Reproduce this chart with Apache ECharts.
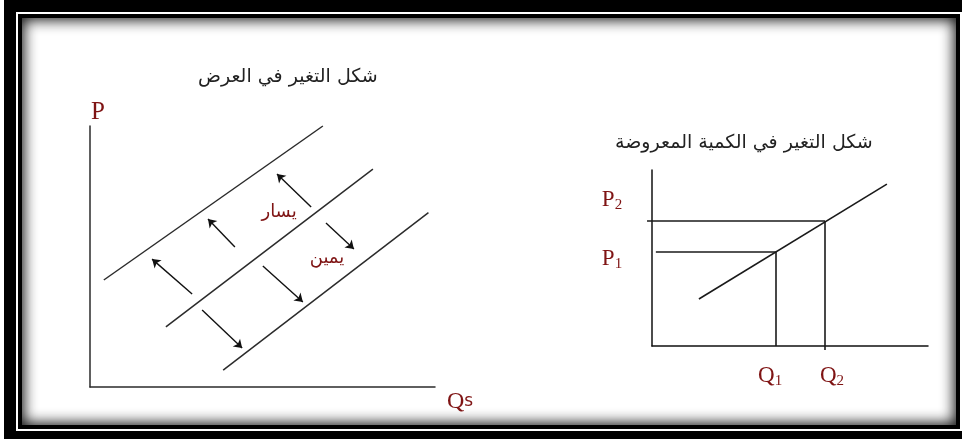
<!DOCTYPE html>
<html>
<head>
<meta charset="utf-8">
<title>شكل التغير في العرض</title>
<script src="https://cdn.jsdelivr.net/npm/echarts@6/dist/echarts.min.js"></script>
<style>
  html, body { margin: 0; padding: 0; background: #fff; }
  .box { position: absolute; }
  #f1 { left: 4px; top: 0; width: 958px; height: 439px; background: #000; }
  #f2 { left: 16px; top: 12px; width: 946px; height: 419px; background: #fff; }
  #f3 { left: 18px; top: 14px; width: 942px; height: 415px; background: #000; }
  #f4 { left: 22px; top: 18px; width: 934px; height: 407px; background: #fff;
        box-shadow: inset 0 0 14px 2px #111; }
  #main { position: absolute; left: 0; top: 0; width: 962px; height: 439px; }
</style>
</head>
<body>
<div class="box" id="f1"></div>
<div class="box" id="f2"></div>
<div class="box" id="f3"></div>
<div class="box" id="f4"></div>
<div id="main"></div>
<script>
// left panel: three supply curves (quantity, price)
var curveLeft = [[4, 41], [67.5, 100]];
var curveMid = [[22, 23], [82, 83.5]];
var curveRight = [[38.6, 6.5], [98.1, 66.8]];
// shift arrows [from, to]
var arrowsLeft = [
  [[29.6, 35.6], [18, 49]],
  [[42, 53.6], [34.2, 64.4]],
  [[64.1, 69], [54.2, 81.6]]
];
var arrowsRight = [
  [[68.4, 62.8], [76.5, 52.9]],
  [[50.1, 46.4], [61.7, 32.6]],
  [[32.5, 29.5], [44.1, 14.9]]
];
var shiftNames = ['يسار', 'يمين'];
var shiftPos = [[54.8, 67], [68.7, 49.4]];

// right panel: one supply curve, two price/quantity points
var supplyCurve = [[17, 26.7], [85.1, 92]];
var priceLevels = [53.4, 71];
var quantityLevels = [44.9, 62.7];
var priceNames = ['1', '2'];
var quantityNames = ['1', '2'];
var priceLabelY = [49.4, 83];
var quantityLabelX = [42.8, 65.2];

var red = '#7f1414';
var ink = '#2b2b2b';
var serif = '"Liberation Serif", "DejaVu Serif", serif';
var sans = '"DejaVu Sans", "Liberation Sans", sans-serif';

function seg(list) {
  return list.map(function (s) { return { coords: s }; });
}

var guideLines = [
  [[1.4, priceLevels[0]], [quantityLevels[0], priceLevels[0]]],
  [[-1.8, priceLevels[1]], [quantityLevels[1], priceLevels[1]]],
  [[quantityLevels[0], priceLevels[0]], [quantityLevels[0], 0]],
  [[quantityLevels[1], priceLevels[1]], [quantityLevels[1], -2.3]]
];

var chart = echarts.init(document.getElementById('main'));

function axis(extra) {
  return Object.assign({
    type: 'value', min: 0, max: 100,
    axisLine: { show: true, onZero: false, lineStyle: { color: ink, width: 1.5 } },
    axisTick: { show: false },
    axisLabel: { show: false },
    splitLine: { show: false }
  }, extra);
}

var subRich = {
  b: { fontFamily: serif, fontSize: 23, color: red },
  s: { fontFamily: serif, fontSize: 15, color: red, padding: [10, 0, 0, 0] }
};

var titleStyle = { fontFamily: sans, fontSize: 19, fontWeight: 'normal', color: '#222' };

chart.setOption({
  animation: false,
  backgroundColor: 'transparent',
  title: [
    { text: 'شكل التغير في العرض', left: 193, top: 63, textStyle: titleStyle },
    { text: 'شكل التغير في الكمية المعروضة', left: 610, top: 129, textStyle: titleStyle }
  ],
  grid: [
    { left: 90, top: 126, width: 345, height: 261, outerBoundsMode: 'none' },
    { left: 652, top: 170, width: 276, height: 176, outerBoundsMode: 'none' }
  ],
  xAxis: [
    axis({
      gridIndex: 0, name: '{b|Q}{q|s}', nameLocation: 'end', nameGap: 12,
      nameTextStyle: {
        verticalAlign: 'top', padding: [3, 0, 0, 0],
        rich: {
          b: { fontFamily: serif, fontSize: 24, color: red },
          q: { fontFamily: sans, fontSize: 17, color: red }
        }
      }
    }),
    axis({ gridIndex: 1, axisLine: { show: true, onZero: false, lineStyle: { color: '#111', width: 1.5 } } })
  ],
  yAxis: [
    axis({
      gridIndex: 0, name: 'P', nameLocation: 'end', nameGap: 1,
      nameTextStyle: { fontFamily: serif, fontSize: 25, color: red, align: 'left', padding: [0, 0, 0, 1] }
    }),
    axis({ gridIndex: 1, axisLine: { show: true, onZero: false, lineStyle: { color: '#111', width: 1.5 } } })
  ],
  series: [
    {
      type: 'lines', coordinateSystem: 'cartesian2d', xAxisIndex: 0, yAxisIndex: 0,
      clip: false, symbol: 'none',
      lineStyle: { color: ink, width: 1.5, opacity: 1 },
      data: seg([curveLeft, curveMid, curveRight])
    },
    {
      type: 'lines', coordinateSystem: 'cartesian2d', xAxisIndex: 0, yAxisIndex: 0,
      clip: false, symbol: ['none', 'arrow'], symbolSize: 8,
      lineStyle: { color: '#111', width: 1.4, opacity: 1 },
      data: seg(arrowsLeft.concat(arrowsRight))
    },
    {
      type: 'scatter', xAxisIndex: 0, yAxisIndex: 0, clip: false, symbolSize: 0,
      itemStyle: { color: red, opacity: 1 },
      label: {
        show: true, position: 'inside', formatter: '{b}',
        fontFamily: sans, fontSize: 18, color: red, opacity: 1,
        textBorderWidth: 0, textBorderColor: 'transparent'
      },
      data: shiftNames.map(function (n, i) { return { name: n, value: shiftPos[i] }; })
    },
    {
      type: 'lines', coordinateSystem: 'cartesian2d', xAxisIndex: 1, yAxisIndex: 1,
      clip: false, symbol: 'none',
      lineStyle: { color: '#1a1a1a', width: 1.6, opacity: 1 },
      data: seg([supplyCurve].concat(guideLines))
    },
    {
      type: 'scatter', xAxisIndex: 1, yAxisIndex: 1, clip: false, symbolSize: 0,
      itemStyle: { color: red, opacity: 1 },
      label: {
        show: true, position: 'inside', color: red, opacity: 1,
        textBorderWidth: 0, textBorderColor: 'transparent',
        formatter: function (p) { return '{b|' + p.data.letter + '}{s|' + p.name + '}'; },
        rich: subRich
      },
      data: priceNames.map(function (n, i) {
        return { name: n, letter: 'P', value: [-14.5, priceLabelY[i]] };
      }).concat(quantityNames.map(function (n, i) {
        return { name: n, letter: 'Q', value: [quantityLabelX[i], -17] };
      }))
    }
  ]
});
</script>
</body>
</html>
